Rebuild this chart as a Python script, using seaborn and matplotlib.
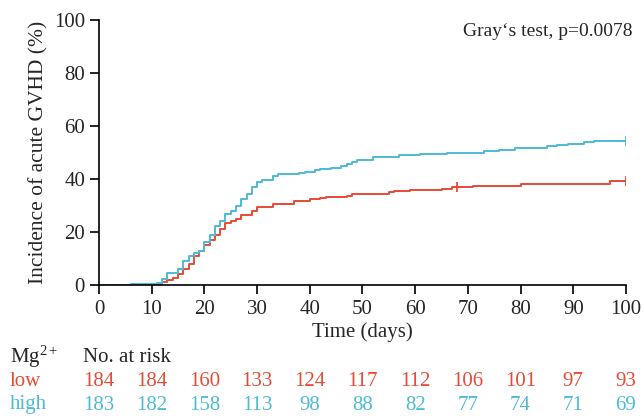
import numpy as np
import pandas as pd
import seaborn as sns
import matplotlib.pyplot as plt

# cumulative incidence step data (days, %)
low_time = [0, 6, 11, 12, 13, 14, 15, 16, 17, 18, 19, 20, 21, 22, 23, 24, 25, 26, 27, 29, 30,
            33, 37, 40, 42, 43, 47, 48, 55, 56, 59, 65, 67, 71, 80, 97, 100]
low_cif = [0, 0.1, 0.4, 1.0, 1.8, 2.8, 4.1, 6.1, 7.9, 10.8, 12.7, 15.0, 17.1, 19.0, 21.3, 23.5,
           24.1, 25.0, 26.3, 27.9, 29.5, 30.5, 31.7, 32.3, 33.0, 33.3, 33.7, 34.3, 34.9, 35.3,
           35.9, 36.4, 36.9, 37.4, 38.1, 39.1, 39.1]
high_time = [0, 6, 10, 11, 12, 13, 15, 16, 17, 18, 19, 20, 21, 22, 23, 24, 25, 26, 27, 28, 29, 30,
             31, 33, 34, 38, 39, 41, 42, 44, 46, 47, 48, 49, 52, 57, 61, 66, 73, 76, 79, 85, 87,
             89, 92, 94, 100]
high_cif = [0, 0.3, 0.5, 0.9, 2.3, 4.7, 6.1, 9.1, 10.8, 12.1, 13.0, 16.3, 19.0, 22.2, 24.1, 26.7,
            27.9, 29.8, 32.4, 34.5, 36.8, 38.7, 39.6, 41.0, 41.7, 42.2, 42.5, 43.2, 43.6, 44.0,
            45.0, 45.7, 46.3, 47.2, 48.2, 48.9, 49.5, 49.9, 50.5, 51.0, 51.7, 52.3, 52.9, 53.3,
            53.8, 54.3, 54.3]

# censoring marks
cens_time = [68, 100, 100]
cens_cif = [36.9, 39.1, 54.3]
cens_group = ['low', 'low', 'high']

risk_times = [0, 10, 20, 30, 40, 50, 60, 70, 80, 90, 100]
risk_low = [184, 184, 160, 133, 124, 117, 112, 106, 101, 97, 93]
risk_high = [183, 182, 158, 113, 98, 88, 82, 77, 74, 71, 69]

red = '#E64B35'
blue = '#4DBBD5'
palette = {'low': red, 'high': blue}

df = pd.concat([
    pd.DataFrame({'time': low_time, 'cif': low_cif, 'group': 'low'}),
    pd.DataFrame({'time': high_time, 'cif': high_cif, 'group': 'high'}),
], ignore_index=True)
cens = pd.DataFrame({'time': cens_time, 'cif': cens_cif, 'group': cens_group})

sns.set_theme(style='ticks')
plt.rcParams['font.family'] = ['Liberation Serif', 'DejaVu Serif']
plt.rcParams['mathtext.fontset'] = 'custom'
plt.rcParams['mathtext.rm'] = 'Liberation Serif'
plt.rcParams['mathtext.it'] = 'Liberation Serif:italic'
plt.rcParams['mathtext.bf'] = 'Liberation Serif:bold'

fs = 15
fig = plt.figure(figsize=(6.44, 4.16), dpi=100)
ax = fig.add_axes([0.1537, 0.315, 0.8183, 0.637])

sns.lineplot(data=df, x='time', y='cif', hue='group', palette=palette, estimator=None,
             drawstyle='steps-post', linewidth=1.4, legend=False, ax=ax)
sns.scatterplot(data=cens, x='time', y='cif', hue='group', palette=palette, marker='+',
                s=50, linewidth=1.3, legend=False, ax=ax, zorder=5)

ax.set_xlim(0, 100)
ax.set_ylim(0, 100)
ax.set_xticks(risk_times)
ax.set_yticks([0, 20, 40, 60, 80, 100])
ax.tick_params(labelsize=fs, length=6.5, width=1.2, color='black')
ax.tick_params(axis='x', pad=4.5)
ax.tick_params(axis='y', pad=3.5)
for s in ['left', 'bottom']:
    ax.spines[s].set_linewidth(1.2)
    ax.spines[s].set_color('black')
sns.despine(ax=ax)
ax.set_xlabel('Time (days)', fontsize=fs, labelpad=2.5)
ax.set_ylabel('Incidence of acute GVHD (%)', fontsize=15.5, labelpad=4)
ax.text(1.013, 0.955, 'Gray\u2018s test, p=0.0078', transform=ax.transAxes, ha='right',
        va='center', fontsize=14)

# number at risk table
fig.text(10 / 644, 1 - 357 / 416, r'$\mathrm{Mg}^{2+}$', fontsize=fs, va='center', ha='left')
fig.text(83 / 644, 1 - 357 / 416, 'No. at risk', fontsize=fs, va='center', ha='left')
fig.text(10 / 644, 1 - 381 / 416, 'low', fontsize=fs, va='center', ha='left', color=red)
fig.text(10 / 644, 1 - 405 / 416, 'high', fontsize=fs, va='center', ha='left', color=blue)
for t, nl, nh in zip(risk_times, risk_low, risk_high):
    fx = fig.transFigure.inverted().transform(ax.transData.transform((t, 0)))[0]
    fig.text(fx, 1 - 381 / 416, str(nl), fontsize=fs, va='center', ha='center', color=red)
    fig.text(fx, 1 - 405 / 416, str(nh), fontsize=fs, va='center', ha='center', color=blue)

plt.savefig('out.png', dpi=100)
